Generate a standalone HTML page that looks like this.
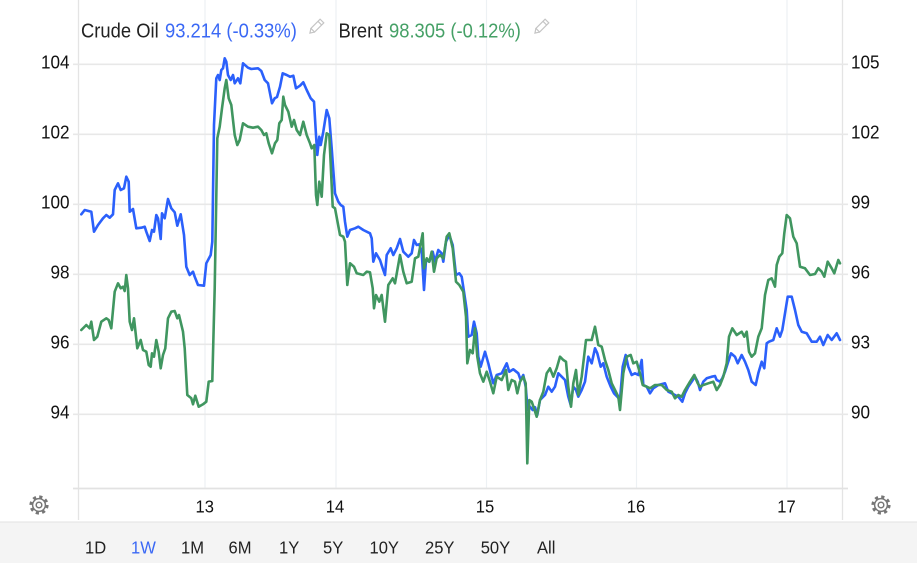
<!DOCTYPE html>
<html>
<head>
<meta charset="utf-8">
<style>
html,body{margin:0;padding:0;background:#fff;}
svg{display:block;}
text{font-family:"Liberation Sans",Arial,sans-serif;}
</style>
</head>
<body>
<svg width="917" height="563" viewBox="0 0 917 563" xmlns="http://www.w3.org/2000/svg">
<rect x="0" y="0" width="917" height="563" fill="#fff"/>
<!-- vertical grid lines -->
<g stroke="#edf1f4" stroke-width="1.2">
<line x1="205" y1="0" x2="205" y2="488"/>
<line x1="336" y1="0" x2="336" y2="488"/>
<line x1="486.5" y1="0" x2="486.5" y2="488"/>
<line x1="636.5" y1="0" x2="636.5" y2="488"/>
<line x1="787" y1="0" x2="787" y2="488"/>
</g>
<!-- plot borders -->
<g stroke="#e4e4e4" stroke-width="1.3">
<line x1="78.5" y1="0" x2="78.5" y2="520"/>
<line x1="842.5" y1="0" x2="842.5" y2="520"/>
</g>
<!-- horizontal grid lines -->
<g stroke="#e8e8e8" stroke-width="1.6">
<line x1="73" y1="64.3" x2="848" y2="64.3"/>
<line x1="73" y1="134.3" x2="848" y2="134.3"/>
<line x1="73" y1="204.3" x2="848" y2="204.3"/>
<line x1="73" y1="274.3" x2="848" y2="274.3"/>
<line x1="73" y1="344.3" x2="848" y2="344.3"/>
<line x1="73" y1="414.3" x2="848" y2="414.3"/>
</g>
<line x1="73" y1="488.5" x2="848" y2="488.5" stroke="#e2e2e2" stroke-width="1.8"/>

<!-- left axis labels -->
<g fill="#111" font-size="18.6" text-anchor="end">
<text transform="translate(69.5,68.3) scale(0.92 1)">104</text>
<text transform="translate(69.5,138.3) scale(0.92 1)">102</text>
<text transform="translate(69.5,208.3) scale(0.92 1)">100</text>
<text transform="translate(69.5,278.3) scale(0.92 1)">98</text>
<text transform="translate(69.5,348.3) scale(0.92 1)">96</text>
<text transform="translate(69.5,418.3) scale(0.92 1)">94</text>
</g>
<!-- right axis labels -->
<g fill="#111" font-size="18.6">
<text transform="translate(851,68.3) scale(0.92 1)">105</text>
<text transform="translate(851,138.3) scale(0.92 1)">102</text>
<text transform="translate(851,208.3) scale(0.92 1)">99</text>
<text transform="translate(851,278.3) scale(0.92 1)">96</text>
<text transform="translate(851,348.3) scale(0.92 1)">93</text>
<text transform="translate(851,418.3) scale(0.92 1)">90</text>
</g>
<!-- x labels -->
<g fill="#111" font-size="18" text-anchor="middle">
<text transform="translate(204.7,512.7) scale(0.92 1)">13</text>
<text transform="translate(335,512.7) scale(0.92 1)">14</text>
<text transform="translate(485,512.7) scale(0.92 1)">15</text>
<text transform="translate(636,512.7) scale(0.92 1)">16</text>
<text transform="translate(786.5,512.7) scale(0.92 1)">17</text>
</g>

<!-- series -->
<polyline fill="none" stroke="#2b60fb" stroke-width="2.6" stroke-linejoin="round" stroke-linecap="round" points="81.3,214.3 84.7,210 91.3,211.7 94,231.7 98,225 103,218.3 106.3,215 109.7,217.7 113,214.3 114.7,190 118,183.3 120.7,190 124,188.3 126.3,176.7 128.7,181.7 129.7,211.7 133,209 136.3,228.3 141.3,227.7 144.7,226.7 146.3,231.7 149.7,241 152,230 154,231.7 156.3,215 158,218.3 160.7,239 162,213.3 164.7,218.3 168,199 171.3,208.3 174.7,212.3 177.3,225.7 180.7,214.3 184,235 186.3,266.7 189.7,275 193,271.7 194.7,276.7 198,285 204,285.7 206.3,263.3 210.7,255 212.3,241.7 214,125 216.3,78.3 218,75 219.7,80 221.3,70 223,68.3 224.7,58.3 226.3,61.7 228,75 230.7,80 233,75 234.7,83.3 238,78.3 240.3,83.3 243,63.3 248,67.7 251.3,69 258,68.3 261.3,71 264.7,80 268,83.3 272,103.3 274.7,98.3 277,97 280,86.7 282.7,73.3 286.7,75 290,76.7 293.3,75.7 296,88.3 300,85.7 303.3,82.3 306.7,90 310.7,98.3 314,101.7 316,135 317.3,155 319.3,136.7 320.7,145 323.3,131.7 326.7,110 329.3,118.3 331.7,148.3 335,193.3 338.3,201.7 340.7,205 343.3,206.7 345,221.7 347.3,236.7 350,230 355,228.3 358.3,226.7 363.3,230 370,233.3 371.7,238.3 373.3,261.7 376,253.3 380,260 382.7,268.3 385,275 386.7,255 390.7,248.3 393.3,255 396.7,248.3 400,239 403.3,251.7 408.3,256.7 411.7,253.3 414,240 416.7,245 419.3,244.3 421.7,251.7 424,290 426,260 429.3,261.7 432.7,251.7 435,261.7 438.3,250 441.7,253.3 443.3,261.7 446,241.7 449.3,235 452.7,245 456,275 459.3,273.3 461.7,276.7 464,291.7 466.7,310 468.3,336.7 471.7,335 474,321.7 476.7,333.3 478.3,356.7 480.7,366.7 485,351.7 488.3,363.3 490.7,373.3 493.3,383.3 496.7,375 501.7,373.3 506.7,363.3 509.3,371.7 513.3,369.3 518.3,373.3 520.7,380 523.3,375 525.7,386.7 527.7,410 530,406.7 532.7,410 535,407.3 537.3,415 540,400 545,395 548.3,386.7 551.7,391.7 555,386.7 558.3,373.3 561.7,376.7 565,380 568.3,396.7 570.7,405 573.3,386.7 576,390 578.3,396.7 581.7,390 585,381.7 588.3,356.7 591.7,363.3 595,348.3 597.3,353.3 600.7,366.7 603.3,363.3 606.7,376.7 610.7,386.7 614,393.3 617.3,396.7 620,400 622.7,366.7 625.7,355 628.3,366.7 631.7,375 635,373.3 638.3,375 641.7,360 643.3,385 646.7,386.7 650,393.3 653.3,388.3 658.3,385 665,383.3 668.3,391.7 671.7,393.3 675,395 678.3,396.7 682.3,401.7 685,393.3 688.3,386.7 691.7,381.7 695,376.7 697.7,381.7 700,390 703.3,381.7 706.7,378.3 711.7,376.7 715,376 716.7,380 720,381.7 722.3,378.3 725,371.7 727.7,363.3 731,353.3 735,356.7 737.7,363.3 741.7,355 745,361.7 748.3,370 751.7,381.7 755.7,385 758.3,373.3 761.7,361.7 764.3,368.3 766.7,343.3 769,341.7 773.3,340 776.7,328.3 780,336.7 782.3,330 785,313.3 787.7,296.7 791.7,296.7 795,310 798.3,325 801.7,331.7 806.7,333.3 811.7,341.7 816.7,341.7 820,336.7 823.3,345 827.7,335 831.7,340 836.7,333.3 840,340"/>
<polyline fill="none" stroke="#409660" stroke-width="2.6" stroke-linejoin="round" stroke-linecap="round" points="81.3,330 86.3,325 89.7,328.3 91.3,321.7 94,340 97.3,336.7 101.3,321.7 106.3,318.3 108.7,320 111.3,328.3 114.7,291.7 118,283.3 120.7,288.3 123,286.7 124.7,291 126.3,275 128,288.3 129.7,321.7 132,330 134,318.3 137.3,348.3 140.7,340 143,350 146.3,351.7 148.7,365 150.7,366.7 152,353.3 154,356.7 156.3,340 158.7,351.7 160.7,368.3 163,355 165.3,348.3 168,318.3 171.3,311.7 174.7,311 177.3,318.3 179,315 183,331.7 184.7,348.3 187.3,395 191.3,398.3 193,404.3 195.3,395.7 198.7,406.7 203,404.3 206.3,401.7 208.7,381.7 212.3,381 214.7,288.3 217.3,138.3 219.7,126.7 222,108.3 224.7,88.3 226.3,80 228.7,98.3 231.3,105 234.7,135 237.3,145 239.7,140 243,123.3 248,126.7 253,127.7 258,126.7 261.3,130 264,135 266.3,133.3 268.7,143.3 272,153.3 275,143.3 277.3,140 279.3,123.3 281.7,120 283.3,96.7 285,105 288.3,111.7 291.7,126.7 294,120 296.7,130 300,135 303.3,121.7 306.7,135 310,143.3 311.7,148.3 314.3,145 316,195 317.3,205 319.3,181.7 321.7,196.7 324,155 326.7,133.3 329.3,135 332.7,206.7 335,208.3 340,235 343.3,236.7 345,241.7 347.3,285 350,263.3 354,266.7 356.7,273.3 363.3,275 366.7,271.7 370,272.3 372.7,288.3 374,308.3 376,295 379.3,301.7 381.7,295 385,321.7 388.3,285 392.7,278.3 395,283.3 400,255 403.3,271.7 406.7,283.3 411.7,281.7 415,258.3 418.3,256.7 422.7,233.3 424,268.3 426.7,258.3 429.3,261.7 431.7,251.7 434,271.7 436.7,258.3 440,255 443.3,258.3 446.7,236.7 449.3,233.3 452.7,248.3 456,281.7 459.3,285 463.3,291.7 466,316.7 467.3,363.3 470,350 472.7,353.3 475,328.3 477.3,356.7 480,373.3 483.3,381.7 486.7,371.7 490,381.7 493.3,393.3 496.7,376.7 501.7,380 506,370 508.3,390 511.7,380 515,381.7 517.3,393.3 520,381.7 523.3,376.7 525.7,383.3 527.3,463.3 529.3,400 531.7,401.7 534,408.3 536.7,416.7 540,400 543.3,391.7 546.7,373.3 550,368.3 553.3,376.7 556.7,368.3 560,356.7 563.3,360 566,361.7 568.3,386.7 571,406.7 573.3,383.3 576,370 578.3,395 581.7,376.7 586,340 591.7,340 595,326.7 598.3,345 601.7,346.7 605,360 608.3,370 611.7,383.3 615,390 618.3,396.7 620,410 623.3,373.3 626.7,356.7 630.7,355 633.3,363.3 636.7,361.7 640,373.3 642.7,385 646.7,386.7 650,388.3 655,385 661.7,385 666.7,390 671.7,391.7 675,398.3 678.3,395 681.7,396.7 685,390 690,381.7 694.3,375 697.7,383.3 700,386.7 703.3,385 708.3,383.3 713.3,381.7 716.7,390 720,385 723.3,376.7 726.7,363.3 729,336.7 732.3,328.3 736.7,335 741.7,331.7 744.3,336.7 746.7,331.7 749,351.7 751.7,356.7 755,353.3 758.3,336.7 761.7,328.3 765,295 768.3,280 771.7,278.3 775,286.7 776.7,265 779.3,256.7 782.3,253.3 784.3,233.3 786.7,215 790,218.3 793.3,236.7 796.7,243.3 800,266.7 805,268.3 810,275 815,274 818.3,268.3 821.7,271.7 824.3,276.7 827.7,261.7 831.7,268.3 834.3,273.3 838.3,260 840,263.3"/>

<!-- legend -->
<g font-size="20">
<text transform="translate(81,37.7) scale(0.92 1)" fill="#222">Crude Oil</text>
<text transform="translate(165,37.7) scale(0.92 1)" fill="#3a68f5">93.214 (-0.33%)</text>
<text transform="translate(338.5,37.7) scale(0.92 1)" fill="#222">Brent</text>
<text transform="translate(389,37.7) scale(0.92 1)" fill="#45a066">98.305 (-0.12%)</text>
</g>
<!-- pencil icons -->
<g fill="none" stroke="#c4c4c4" stroke-width="1.2">
<g transform="translate(317,26) rotate(-45)">
<rect x="-6" y="-2.6" width="13" height="5.2"/>
<path d="M-6,-2.6 L-10,0 L-6,2.6"/>
<line x1="4" y1="-2.6" x2="4" y2="2.6"/>
</g>
<g transform="translate(542,26) rotate(-45)">
<rect x="-6" y="-2.6" width="13" height="5.2"/>
<path d="M-6,-2.6 L-10,0 L-6,2.6"/>
<line x1="4" y1="-2.6" x2="4" y2="2.6"/>
</g>
</g>

<!-- gear icons -->
<g transform="translate(39,505)">
<circle r="8" fill="none" stroke="#777" stroke-width="3.2" stroke-dasharray="3.1 3.18"/>
<circle r="6.4" fill="#fff" stroke="#777" stroke-width="1.5"/>
<circle r="2.8" fill="none" stroke="#777" stroke-width="1.5"/>
</g>
<g transform="translate(881,505)">
<circle r="8" fill="none" stroke="#777" stroke-width="3.2" stroke-dasharray="3.1 3.18"/>
<circle r="6.4" fill="#fff" stroke="#777" stroke-width="1.5"/>
<circle r="2.8" fill="none" stroke="#777" stroke-width="1.5"/>
</g>

<!-- bottom range bar -->
<rect x="0" y="522" width="917" height="41" fill="#f4f4f4"/>
<line x1="0" y1="522" x2="917" y2="522" stroke="#e2e2e2" stroke-width="1"/>
<g font-size="18" fill="#222">
<text transform="translate(85,553.3) scale(0.92 1)">1D</text>
<text transform="translate(131,553.3) scale(0.92 1)" fill="#3a68f5">1W</text>
<text transform="translate(181,553.3) scale(0.92 1)">1M</text>
<text transform="translate(228.5,553.3) scale(0.92 1)">6M</text>
<text transform="translate(279,553.3) scale(0.92 1)">1Y</text>
<text transform="translate(323,553.3) scale(0.92 1)">5Y</text>
<text transform="translate(369.5,553.3) scale(0.92 1)">10Y</text>
<text transform="translate(425,553.3) scale(0.92 1)">25Y</text>
<text transform="translate(480.7,553.3) scale(0.92 1)">50Y</text>
<text transform="translate(537,553.3) scale(0.92 1)">All</text>
</g>
</svg>
</body>
</html>
